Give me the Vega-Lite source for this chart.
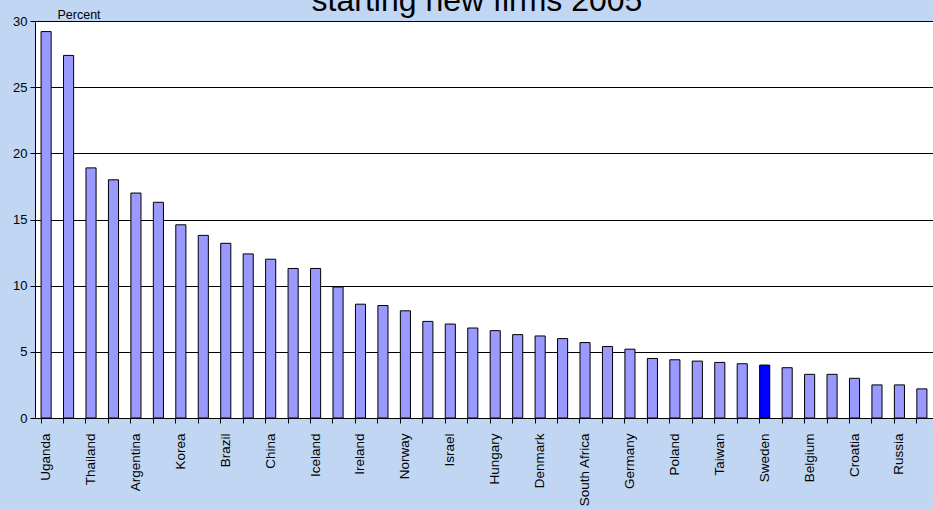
{
  "$schema": "https://vega.github.io/schema/vega-lite/v6.json",
  "autosize": "none",
  "width": 898,
  "height": 397,
  "padding": {"left": 35, "top": 21, "right": 0, "bottom": 92},
  "background": "#C0D6F2",
  "title": {
    "text": "starting new firms 2005",
    "font": "Liberation Sans",
    "fontSize": 32,
    "fontWeight": "normal",
    "color": "#000000",
    "anchor": "middle",
    "frame": "group",
    "baseline": "alphabetic",
    "offset": 0,
    "dy": 35,
    "dx": -7
  },
  "config": {
    "view": {"fill": "#FFFFFF", "stroke": "#808080", "strokeWidth": 1},
    "axis": {"labelFont": "Liberation Sans", "titleFont": "Liberation Sans", "labelColor": "#000000", "titleColor": "#000000"}
  },
  "data": {
    "values": [
      {"country": "Uganda", "percent": 29.2, "group": "other"},
      {"country": "_2", "percent": 27.4, "group": "other"},
      {"country": "Thailand", "percent": 18.9, "group": "other"},
      {"country": "_4", "percent": 18.0, "group": "other"},
      {"country": "Argentina", "percent": 17.0, "group": "other"},
      {"country": "_6", "percent": 16.3, "group": "other"},
      {"country": "Korea", "percent": 14.6, "group": "other"},
      {"country": "_8", "percent": 13.8, "group": "other"},
      {"country": "Brazil", "percent": 13.2, "group": "other"},
      {"country": "_10", "percent": 12.4, "group": "other"},
      {"country": "China", "percent": 12.0, "group": "other"},
      {"country": "_12", "percent": 11.3, "group": "other"},
      {"country": "Iceland", "percent": 11.3, "group": "other"},
      {"country": "_14", "percent": 9.9, "group": "other"},
      {"country": "Ireland", "percent": 8.6, "group": "other"},
      {"country": "_16", "percent": 8.5, "group": "other"},
      {"country": "Norway", "percent": 8.1, "group": "other"},
      {"country": "_18", "percent": 7.3, "group": "other"},
      {"country": "Israel", "percent": 7.1, "group": "other"},
      {"country": "_20", "percent": 6.8, "group": "other"},
      {"country": "Hungary", "percent": 6.6, "group": "other"},
      {"country": "_22", "percent": 6.3, "group": "other"},
      {"country": "Denmark", "percent": 6.2, "group": "other"},
      {"country": "_24", "percent": 6.0, "group": "other"},
      {"country": "South Africa", "percent": 5.7, "group": "other"},
      {"country": "_26", "percent": 5.4, "group": "other"},
      {"country": "Germany", "percent": 5.2, "group": "other"},
      {"country": "_28", "percent": 4.5, "group": "other"},
      {"country": "Poland", "percent": 4.4, "group": "other"},
      {"country": "_30", "percent": 4.3, "group": "other"},
      {"country": "Taiwan", "percent": 4.2, "group": "other"},
      {"country": "_32", "percent": 4.1, "group": "other"},
      {"country": "Sweden", "percent": 4.0, "group": "Sweden"},
      {"country": "_34", "percent": 3.8, "group": "other"},
      {"country": "Belgium", "percent": 3.3, "group": "other"},
      {"country": "_36", "percent": 3.3, "group": "other"},
      {"country": "Croatia", "percent": 3.0, "group": "other"},
      {"country": "_38", "percent": 2.5, "group": "other"},
      {"country": "Russia", "percent": 2.5, "group": "other"},
      {"country": "_40", "percent": 2.2, "group": "other"}
    ]
  },
  "mark": {"type": "bar", "stroke": "#000000", "strokeWidth": 1},
  "encoding": {
    "x": {
      "field": "country",
      "type": "nominal",
      "sort": null,
      "scale": {"paddingInner": 0.55, "paddingOuter": 0.27},
      "axis": {
        "title": null,
        "labelAngle": -90,
        "labelFontSize": 13.5,
        "labelPadding": 10,
        "labelExpr": "substring(datum.label, 0, 1) == '_' ? '' : datum.label",
        "bandPosition": 0,
        "ticks": true,
        "tickSize": 5,
        "tickColor": "#000000",
        "domainColor": "#000000",
        "grid": false,
        "labelOverlap": false
      }
    },
    "y": {
      "field": "percent",
      "type": "quantitative",
      "scale": {"domain": [0, 30], "nice": false},
      "axis": {
        "values": [0, 5, 10, 15, 20, 25, 30],
        "title": "Percent",
        "titleAngle": 0,
        "titleFontSize": 12.5,
        "titleFontWeight": "normal",
        "titleAlign": "left",
        "titleBaseline": "alphabetic",
        "titleX": 22,
        "titleY": -3,
        "labelFontSize": 13,
        "labelPadding": 3,
        "tickSize": 5,
        "tickColor": "#000000",
        "domainColor": "#000000",
        "grid": true,
        "gridColor": "#000000",
        "gridWidth": 1
      }
    },
    "color": {
      "field": "group",
      "type": "nominal",
      "scale": {"domain": ["other", "Sweden"], "range": ["#9999FF", "#0000FF"]},
      "legend": null
    }
  }
}
